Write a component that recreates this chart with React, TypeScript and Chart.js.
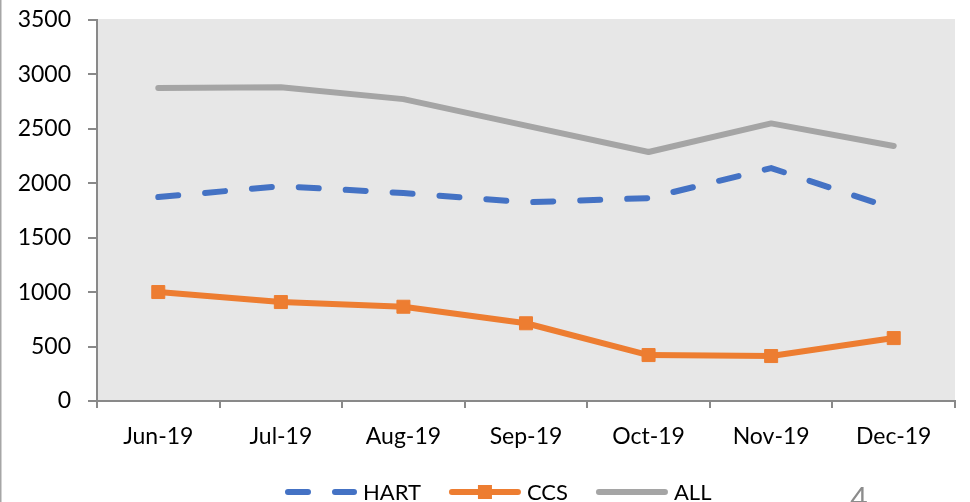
import React, { useEffect, useRef } from "react";
import { Chart, registerables } from "chart.js";

Chart.register(...registerables);

const months = ["Jun-19", "Jul-19", "Aug-19", "Sep-19", "Oct-19", "Nov-19", "Dec-19"];
const hartValues = [1873, 1974, 1910, 1825, 1864, 2140, 1766];
const ccsValues = [1001, 909, 866, 714, 422, 413, 578];
const allValues = [2875, 2883, 2773, 2530, 2287, 2550, 2342];
const yMin = 0;
const yMax = 3500;
const yStep = 500;
const pageNumber = "4";

const FONT = "Lato, 'Open Sans', sans-serif";
const AXIS = "#898989";
const DASH = [20, 27];

const decorPlugin = {
  id: "decor",
  beforeDraw(chart: any) {
    const { ctx, chartArea } = chart;
    ctx.save();
    ctx.fillStyle = "#ffffff";
    ctx.fillRect(0, 0, chart.width, chart.height);
    ctx.fillStyle = "#e7e7e7";
    ctx.fillRect(chartArea.left, chartArea.top - 1, chartArea.right - chartArea.left, chartArea.bottom - chartArea.top + 1);
    ctx.strokeStyle = "#a6a6a6";
    ctx.lineWidth = 1.5;
    ctx.beginPath();
    ctx.moveTo(0.75, 0);
    ctx.lineTo(0.75, chart.height);
    ctx.stroke();
    ctx.restore();
  },
  afterDraw(chart: any) {
    const { ctx } = chart;
    ctx.save();
    ctx.font = "22px " + FONT;
    ctx.textBaseline = "middle";
    ctx.textAlign = "left";
    const y = 492;
    let x = 285;
    chart.data.datasets.forEach((ds: any) => {
      ctx.save();
      ctx.strokeStyle = ds.borderColor;
      ctx.lineWidth = ds.borderWidth;
      ctx.lineCap = "round";
      ctx.setLineDash(ds.borderDash || []);
      ctx.beginPath();
      ctx.moveTo(x + 3, y);
      ctx.lineTo(x + 69, y);
      ctx.stroke();
      ctx.restore();
      if (ds.pointRadius > 0) {
        ctx.fillStyle = ds.pointBackgroundColor;
        ctx.fillRect(x + 36 - 7, y - 7, 14, 14);
      }
      ctx.fillStyle = "#000000";
      ctx.fillText(ds.label, x + 78, y + 1);
      x += 78 + ctx.measureText(ds.label).width + 28;
    });
    ctx.fillStyle = "#8c8c8c";
    ctx.font = "30px " + FONT;
    ctx.textAlign = "center";
    ctx.textBaseline = "alphabetic";
    ctx.fillText(pageNumber, 859, 509);
    ctx.restore();
  },
};

export default function App() {
  const ref = useRef<HTMLCanvasElement>(null);

  useEffect(() => {
    if (!ref.current) return;
    const chart = new Chart(ref.current, {
      type: "line",
      data: {
        labels: months,
        datasets: [
          {
            label: "HART",
            data: hartValues,
            borderColor: "#4472c4",
            backgroundColor: "#4472c4",
            borderWidth: 6,
            borderDash: DASH,
            borderCapStyle: "round",
            borderJoinStyle: "round",
            pointRadius: 0,
            pointHoverRadius: 0,
            tension: 0,
          },
          {
            label: "CCS",
            data: ccsValues,
            borderColor: "#ed7d31",
            backgroundColor: "#ed7d31",
            borderWidth: 6,
            borderCapStyle: "round",
            borderJoinStyle: "round",
            pointStyle: "rect",
            pointRadius: 9.2,
            pointBackgroundColor: "#ed7d31",
            pointBorderColor: "#ed7d31",
            pointBorderWidth: 1,
            tension: 0,
          },
          {
            label: "ALL",
            data: allValues,
            borderColor: "#a5a5a5",
            backgroundColor: "#a5a5a5",
            borderWidth: 6,
            borderCapStyle: "round",
            borderJoinStyle: "round",
            pointRadius: 0,
            pointHoverRadius: 0,
            tension: 0,
          },
        ],
      },
      options: {
        responsive: false,
        animation: false,
        events: [],
        layout: { padding: { top: 20, right: 15, left: 0, bottom: 41 } },
        plugins: {
          legend: { display: false },
          tooltip: { enabled: false },
          title: { display: false },
        },
        scales: {
          x: {
            type: "category",
            offset: true,
            grid: {
              offset: true,
              drawOnChartArea: false,
              drawTicks: true,
              tickLength: 7,
              color: AXIS,
              lineWidth: 2,
            },
            border: { display: true, color: AXIS, width: 2 },
            ticks: {
              color: "#000000",
              font: { family: FONT, size: 23 },
              padding: 15,
              maxRotation: 0,
              autoSkip: false,
            },
            afterFit: (s: any) => {
              s.height = 60;
              s.paddingLeft = 0;
              s.paddingRight = 0;
            },
          },
          y: {
            min: yMin,
            max: yMax,
            grid: {
              drawOnChartArea: false,
              drawTicks: true,
              tickLength: 9,
              color: AXIS,
              lineWidth: 2,
            },
            border: { display: true, color: AXIS, width: 2 },
            ticks: {
              stepSize: yStep,
              color: "#000000",
              font: { family: FONT, size: 23 },
              padding: 17,
              callback: (v: any) => String(v),
            },
            afterFit: (s: any) => {
              s.width = 97;
              s.paddingTop = 0;
              s.paddingBottom = 0;
            },
          },
        },
      },
      plugins: [decorPlugin],
    } as any);
    return () => chart.destroy();
  }, []);

  return (
    <div style={{ position: "absolute", left: 0, top: 0, width: 970, height: 502, overflow: "hidden", background: "#fff" }}>
      <canvas ref={ref} width={970} height={502} style={{ display: "block", width: 970, height: 502 }} />
    </div>
  );
}
